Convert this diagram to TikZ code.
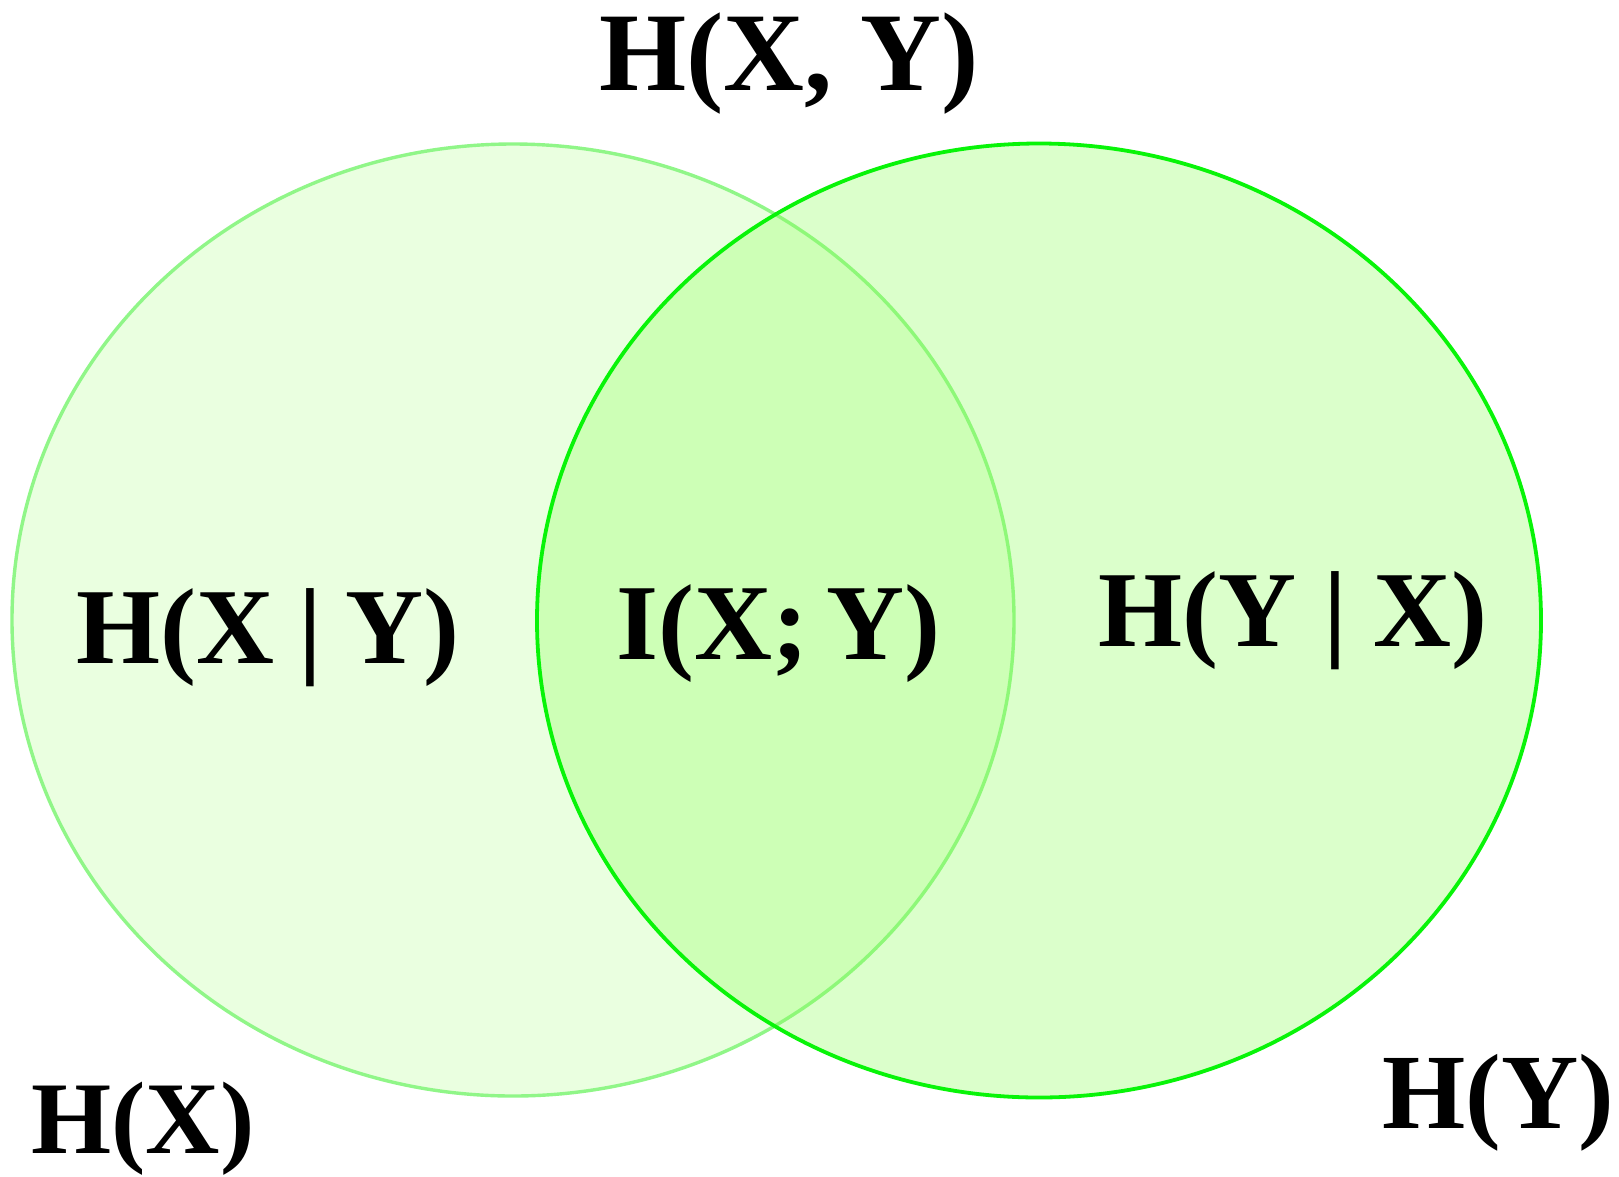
\documentclass[tikz,border=0pt]{standalone}
\usepackage{fontspec}
\setmainfont{Liberation Serif}
\definecolor{lfill}{RGB}{234,255,224}
\definecolor{lline}{RGB}{144,246,136}
\definecolor{rfill}{RGB}{138,255,85}
\definecolor{rline}{RGB}{8,244,8}
\begin{document}
\begin{tikzpicture}[x=1pt,y=-1pt,
  lab/.style={anchor=base,inner sep=0pt,font=\fontsize{108}{120}\selectfont\bfseries}]
\useasboundingbox (0,0) rectangle (1619,1176);
\fill[white] (0,0) rectangle (1619,1176);
% left ellipse H(X)
\draw[line width=3.4pt,draw=lline,fill=lfill] (513,620) ellipse [x radius=501pt,y radius=476pt];
% right ellipse H(Y)
\fill[rfill,fill opacity=0.3] (1039,620.5) ellipse [x radius=502pt,y radius=477pt];
\draw[line width=3.8pt,draw=rline] (1039,620.5) ellipse [x radius=502pt,y radius=477pt];
% labels
\node[lab,font=\fontsize{112}{120}\selectfont\bfseries] (hxy) at (789,90) {H(X, Y)};
\node[lab] (hxgy) at (268,663) {H(X\hspace{0.22em}|\hspace{0.22em}Y)};
\node[lab] (ixy) at (778.5,659) {I(X;\,Y)};
\node[lab] (hygx) at (1293,646) {H(Y | X)};
\node[lab,font=\fontsize{103}{120}\selectfont\bfseries] (hx) at (143,1153) {H(X)};
\node[lab,font=\fontsize{107}{120}\selectfont\bfseries] (hy) at (1498,1128.5) {H(Y)};
\end{tikzpicture}
\end{document}
